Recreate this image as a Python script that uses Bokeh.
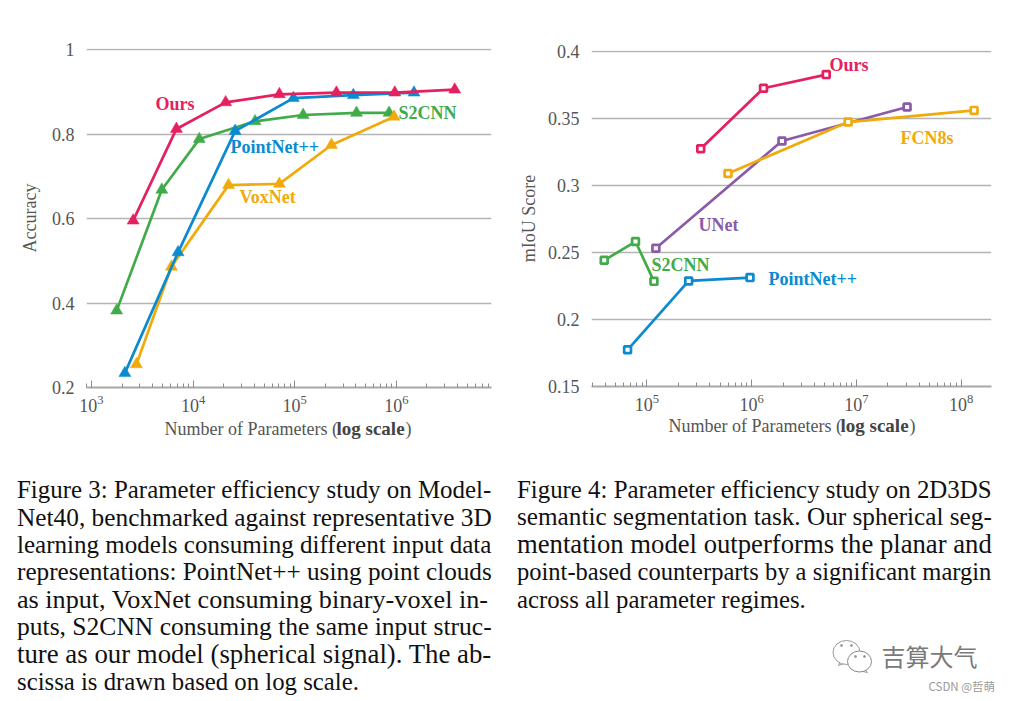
from bokeh.plotting import figure
from bokeh.layouts import column, row
from bokeh.models import Range1d, FixedTicker, Label, ColumnDataSource
from bokeh.core.properties import value
from bokeh.embed import file_html
from bokeh.resources import INLINE

# ---- Figure 3 data
f3_ours_x = [2570, 6850, 20900, 70600, 257000, 964000, 3750000]
f3_ours_y = [0.595, 0.812, 0.875, 0.894, 0.898, 0.898, 0.905]
f3_s2cnn_x = [1770, 4920, 11500, 40700, 121000, 405000, 847000]
f3_s2cnn_y = [0.382, 0.668, 0.788, 0.830, 0.845, 0.850, 0.850]
f3_pointnet_x = [2130, 7110, 25900, 97000, 377000, 1490000]
f3_pointnet_y = [0.234, 0.520, 0.807, 0.885, 0.892, 0.898]
f3_voxnet_x = [2770, 6120, 22300, 70600, 230000, 948000]
f3_voxnet_y = [0.255, 0.486, 0.679, 0.682, 0.774, 0.841]
f3_yticks = [0.2, 0.4, 0.6, 0.8, 1.0]
f3_ylabels = ["0.2", "0.4", "0.6", "0.8", "1"]

# ---- Figure 4 data
f4_ours_x = [327000, 1300000, 5160000]
f4_ours_y = [0.3275, 0.3726, 0.3828]
f4_fcn_x = [596000, 8350000, 133000000]
f4_fcn_y = [0.309, 0.3474, 0.3561]
f4_unet_x = [122000, 1950000, 30500000]
f4_unet_y = [0.2532, 0.3332, 0.3586]
f4_s2cnn_x = [39200, 78000, 117000]
f4_s2cnn_y = [0.2442, 0.2582, 0.2285]
f4_pointnet_x = [65500, 251000, 966000]
f4_pointnet_y = [0.1774, 0.2288, 0.2313]
f4_yticks = [0.15, 0.2, 0.25, 0.3, 0.35, 0.4]
f4_ylabels = ["0.15", "0.2", "0.25", "0.3", "0.35", "0.4"]

# ---- Captions
caption_left = [
    "Figure 3: Parameter efficiency study on Model-",
    "Net40, benchmarked against representative 3D",
    "learning models consuming different input data",
    "representations: PointNet++ using point clouds",
    "as input, VoxNet consuming binary-voxel in-",
    "puts, S2CNN consuming the same input struc-",
    "ture as our model (spherical signal). The ab-",
    "scissa is drawn based on log scale.",
]
caption_right = [
    "Figure 4: Parameter efficiency study on 2D3DS",
    "semantic segmentation task. Our spherical seg-",
    "mentation model outperforms the planar and",
    "point-based counterparts by a significant margin",
    "across all parameter regimes.",
]

RED, GREEN, BLUE, AMBER, PURPLE = "#E5205F", "#41AB4A", "#0A8AD0", "#F0AA0C", "#8B5AA8"
GREY_TXT, GREY_LINE = "#555555", "#B4B4B4"
SERIF = "Liberation Serif"

W = dict(zip("abcdefghijklmnopqrstuvwxyz",
             [444,500,444,500,444,333,500,500,278,278,500,278,778,500,500,500,500,333,389,278,500,500,722,500,500,444]))
W.update(zip("ABCDEFGHIJKLMNOPQRSTUVWXYZ",
             [722,667,667,722,611,556,722,722,333,389,722,611,889,722,722,556,722,667,556,611,722,722,944,722,722,611]))
W.update({c: 500 for c in "0123456789"})
W.update({" ": 250, ",": 250, ".": 250, ":": 278, "-": 333, "+": 564, "(": 333, ")": 333})


def em_width(s):
    return sum(W[c] for c in s) / 1000.0


def base_fig(fx, width, height, xr, yr, l, r, t, b, ticks, labels, ylabel, label_standoff):
    p = figure(width=width, height=height, x_axis_type="log", x_range=Range1d(*xr), y_range=Range1d(*yr),
               output_backend="svg", toolbar_location=None, min_border_left=l, min_border_right=r,
               min_border_top=t, min_border_bottom=b, background_fill_color="white", outline_line_color=None)
    p.xgrid.visible = False
    p.ygrid.ticker = FixedTicker(ticks=ticks)
    p.ygrid.grid_line_color = GREY_LINE
    p.ygrid.grid_line_width = 1.3
    ax = p.xaxis[0]
    ax.axis_line_color = "#A8A8A8"
    ax.axis_line_width = 2.2
    ax.major_tick_in, ax.major_tick_out = 7, 0
    ax.minor_tick_in, ax.minor_tick_out = 4, 0
    ax.major_tick_line_color = "#8C8C8C"
    ax.minor_tick_line_color = "#8C8C8C"
    ax.major_label_text_font = SERIF
    ax.major_label_text_font_size = "18px"
    ax.major_label_text_color = GREY_TXT
    ax.major_label_standoff = 7
    ay = p.yaxis[0]
    ay.ticker = FixedTicker(ticks=ticks)
    ay.major_label_overrides = dict(zip(ticks, labels))
    ay.axis_line_color = None
    ay.major_tick_line_color = None
    ay.minor_tick_line_color = None
    ay.major_label_text_font = SERIF
    ay.major_label_text_font_size = "18px"
    ay.major_label_text_color = GREY_TXT
    ay.major_label_standoff = 6
    ay.axis_label = ylabel
    ay.axis_label_text_font = SERIF
    ay.axis_label_text_font_style = "normal"
    ay.axis_label_text_font_size = "18px"
    ay.axis_label_text_color = GREY_TXT
    ay.axis_label_standoff = label_standoff
    p._page = (fx + l, height - b)
    return p


def put(p, s, px, py, color):
    fl, fb = p._page
    p.add_layout(Label(x=px - 1 - fl, y=fb - py + 1, x_units="screen", y_units="screen", text=s,
                       text_font=SERIF, text_font_size="18px", text_color=color,
                       text_font_style="bold", text_align="left", text_baseline="middle"))


def series(p, xs, ys, color, kind):
    p.line(xs, ys, line_color=color, line_width=2.7)
    if kind == "tri":
        p.scatter(xs, ys, marker="triangle", size=12, fill_color=color, line_color=color, line_width=0.5)
    else:
        p.scatter(xs, ys, marker="square", size=6.8, fill_color="white", line_color=color, line_width=2.7)


# Figure 3 chart
f1 = base_fig(0, 500, 415, (10 ** 2.951, 10 ** 6.936), (0.2, 1.0024), 86, 9, 48, 28,
              f3_yticks, f3_ylabels, "Accuracy", 9)
series(f1, f3_s2cnn_x, f3_s2cnn_y, GREEN, "tri")
series(f1, f3_voxnet_x, f3_voxnet_y, AMBER, "tri")
series(f1, f3_pointnet_x, f3_pointnet_y, BLUE, "tri")
series(f1, f3_ours_x, f3_ours_y, RED, "tri")
put(f1, "Ours", 156, 104, RED)
put(f1, "S2CNN", 399, 113, GREEN)
put(f1, "PointNet++", 231, 147, BLUE)
put(f1, "VoxNet", 240, 197, AMBER)

# Figure 4 chart
f2 = base_fig(500, 510, 415, (10 ** 4.472, 10 ** 8.29), (0.15, 0.4008), 91, 19, 50, 29,
              f4_yticks, f4_ylabels, "mIoU Score", 6)
series(f2, f4_s2cnn_x, f4_s2cnn_y, GREEN, "sq")
series(f2, f4_pointnet_x, f4_pointnet_y, BLUE, "sq")
series(f2, f4_unet_x, f4_unet_y, PURPLE, "sq")
series(f2, f4_fcn_x, f4_fcn_y, AMBER, "sq")
series(f2, f4_ours_x, f4_ours_y, RED, "sq")
put(f2, "Ours", 830, 65, RED)
put(f2, "FCN8s", 901, 138, AMBER)
put(f2, "UNet", 699, 225, PURPLE)
put(f2, "S2CNN", 652, 265, GREEN)
put(f2, "PointNet++", 769, 279, BLUE)

# Axis titles, captions and watermark; page pixels are the coordinates here
f3 = figure(width=1010, height=285, x_range=Range1d(0, 1010), y_range=Range1d(700, 415),
            output_backend="svg", toolbar_location=None, min_border=0, outline_line_color=None)
f3.axis.visible = False
f3.grid.visible = False

for px, py in ((164, 428), (668, 425)):
    f3.text([px], [py], text=["Number of Parameters ("], text_font=value(SERIF), text_font_size="18px",
            text_color=GREY_TXT, text_baseline="middle")
    f3.text([px + 172], [py], text=["log scale"], text_font=value(SERIF), text_font_size="19px",
            text_font_style="bold", text_color="#444444", text_baseline="middle")
    f3.text([px + 241], [py], text=[")"], text_font=value(SERIF), text_font_size="18px",
            text_color=GREY_TXT, text_baseline="middle")

xs, ys, txt, sizes = [], [], [], []
for lines, left, right, last_right in ((caption_left, 16.5, 491.5, 358.5), (caption_right, 516.5, 991.5, 805.5)):
    for i, line in enumerate(lines):
        target = (last_right if i == len(lines) - 1 else right) - left
        xs.append(left)
        ys.append(489 + i * 27.4)
        txt.append(line)
        sizes.append("%.2fpx" % (target / em_width(line)))
f3.text(x="x", y="y", text="t", text_font_size="s", source=ColumnDataSource(dict(x=xs, y=ys, t=txt, s=sizes)),
        text_font=value(SERIF), text_color="#111111", text_baseline="middle", text_align="left")

f3.patches([[840, 838, 846], [864, 867, 858]], [[660, 665, 662], [668, 672, 670]],
           fill_color="white", line_color="#9A9A9A", line_width=1)
f3.ellipse([846], [652], width=[27], height=[24], fill_color="white", line_color="#9A9A9A", line_width=1)
f3.ellipse([859], [661], width=[24], height=[21], fill_color="white", line_color="#8A8A8A", line_width=1)
f3.scatter([841, 851, 855, 864], [645, 645, 656, 656], size=2, marker="circle", color="#9A9A9A")
f3.text([881], [655], text=["吉算大气"], text_font=value("Noto Sans CJK SC"), text_font_size="24px",
        text_color="#7A7A7A", text_baseline="middle")
f3.text([928], [685], text=["CSDN @哲萌"], text_font=value("Noto Sans CJK SC"), text_font_size="11.5px",
        text_color="#9A9A9A", text_baseline="middle")

page = column(row(column(f1), column(f2), spacing=0), f3, spacing=0)
open("out.html", "w").write(file_html(page, INLINE))
